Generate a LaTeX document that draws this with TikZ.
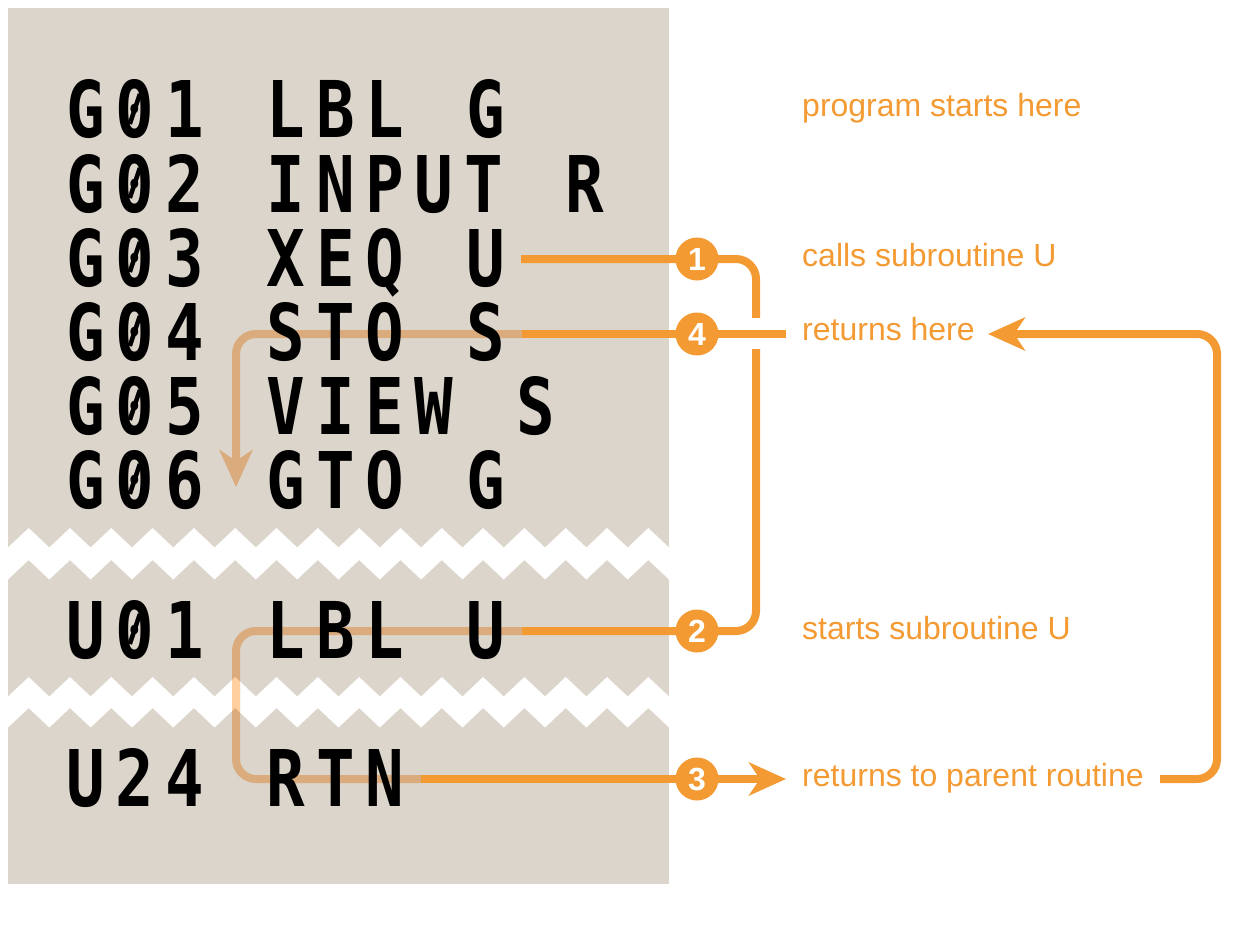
\documentclass[tikz,border=0pt]{standalone}
\usepackage{fontspec}
\usetikzlibrary{arrows.meta}
\newfontfamily\codefont{DejaVu Sans Mono}[FakeStretch=0.82, LetterSpace=13.9, WordSpace=1.27]
\newfontfamily\lblfont{Liberation Sans}
\definecolor{panel}{RGB}{220,213,203}
\definecolor{org}{RGB}{243,154,51}
\definecolor{tan}{RGB}{217,171,125}
\definecolor{lightorg}{RGB}{253,208,158}
\newcommand\zzband[2]{(8,#1+19.5) \foreach \k in {0,...,15}{ -- ({8+(\k+0.5)*41.3125},#1) -- ({8+(\k+1)*41.3125},#1+19.5)} -- (669,#2+19.5) \foreach \k in {15,...,0}{ -- ({8+(\k+0.5)*41.3125},#2) -- ({8+\k*41.3125},#2+19.5)} -- cycle}
\tikzset{
  code/.style={anchor=base west, inner sep=0pt, text=black, font=\codefont\bfseries\fontsize{78.2}{78.2}\selectfont},
  lbl/.style={anchor=base west, inner sep=0pt, text=org, font=\lblfont\fontsize{32}{32}\selectfont},
  numc/.style={circle, fill=org, minimum size=43pt, inner sep=0pt, text=white, font=\lblfont\bfseries\fontsize{32}{32}\selectfont},
  solidline/.style={draw=org, line width=8pt, rounded corners=20pt},
  fadeline/.style={draw=tan, line width=8pt, rounded corners=20pt},
  tip/.style={-{Stealth[length=37pt, width=33pt, inset=11pt]}},
  zslash/.style={draw=black, line width=4.5pt}
}
\begin{document}
\begin{tikzpicture}[x=1pt,y=-1pt]
\useasboundingbox (0,0) rectangle (1241,931);
% panel
\fill[panel] (8,8) rectangle (669,884);
\fill[white] \zzband{528}{560};
\fill[white] \zzband{677}{708};
% coordinates
\coordinate (a0) at (521,259);
\coordinate (k1) at (756,259);
\coordinate (k2) at (756,631);
\coordinate (u0) at (522,631);
\coordinate (m1) at (236,631);
\coordinate (m2) at (236,779);
\coordinate (r0) at (421,779);
\coordinate (t3) at (786,779);
\coordinate (e4) at (786,334);
\coordinate (f4) at (522,334);
\coordinate (h4) at (236,334);
\coordinate (g4) at (236,487);
\coordinate (s0) at (1160,779);
\coordinate (q1) at (1217,779);
\coordinate (q2) at (1217,334);
\coordinate (t4) at (988,334);
\path (697,259) coordinate (p1) (697,334) coordinate (p4) (697,631) coordinate (p2) (697,779) coordinate (p3);
% faded lines
\draw[fadeline] (u0) -- (m1) -- (m2) -- (r0);
\begin{scope}
\clip \zzband{677}{708};
\draw[draw=lightorg, line width=8pt] (m1) -- (m2);
\end{scope}
\draw[fadeline, tip, tan] (f4) -- (h4) -- (g4);
% code text
\node[code] (r1) at (66,138) {G01 LBL G};
\node[code] (r2) at (66,212) {G02 INPUT R};
\node[code] (r3) at (66,286) {G03 XEQ U};
\node[code] (r4) at (66,360) {G04 STO S};
\node[code] (r5) at (66,434) {G05 VIEW S};
\node[code] (r6) at (66,508) {G06 GTO G};
\node[code] (r7) at (66,658) {U01 LBL U};
\node[code] (r8) at (66,806) {U24 RTN};
% slashes of the zeros
\foreach \b in {138,212,286,360,434,508,658}
  \draw[zslash] (129.8,\b-14) -- (139.8,\b-44);
% labels
\node[lbl] (l1) at (802,117) {program starts here};
\node[lbl] (l2) at (802,266) {calls subroutine U};
\node[lbl] (l3) at (802,340) {returns here};
\node[lbl] (l4) at (802,639) {starts subroutine U};
\node[lbl] (l5) at (802,786) {returns to parent routine};
% solid lines
\draw[solidline] (a0) -- (p1) -- (k1) -- (k2) -- (p2) -- (u0);
\fill[white] (750,318) rectangle (762,349);
\draw[solidline] (e4) -- (p4) -- (f4);
\draw[solidline, tip, org] (r0) -- (p3) -- (t3);
\draw[solidline, tip, org] (s0) -- (q1) -- (q2) -- (t4);
% number circles
\node[numc] (c1) at (p1) {1};
\node[numc] (c4) at (p4) {4};
\node[numc] (c2) at (p2) {2};
\node[numc] (c3) at (p3) {3};
\end{tikzpicture}
\end{document}
